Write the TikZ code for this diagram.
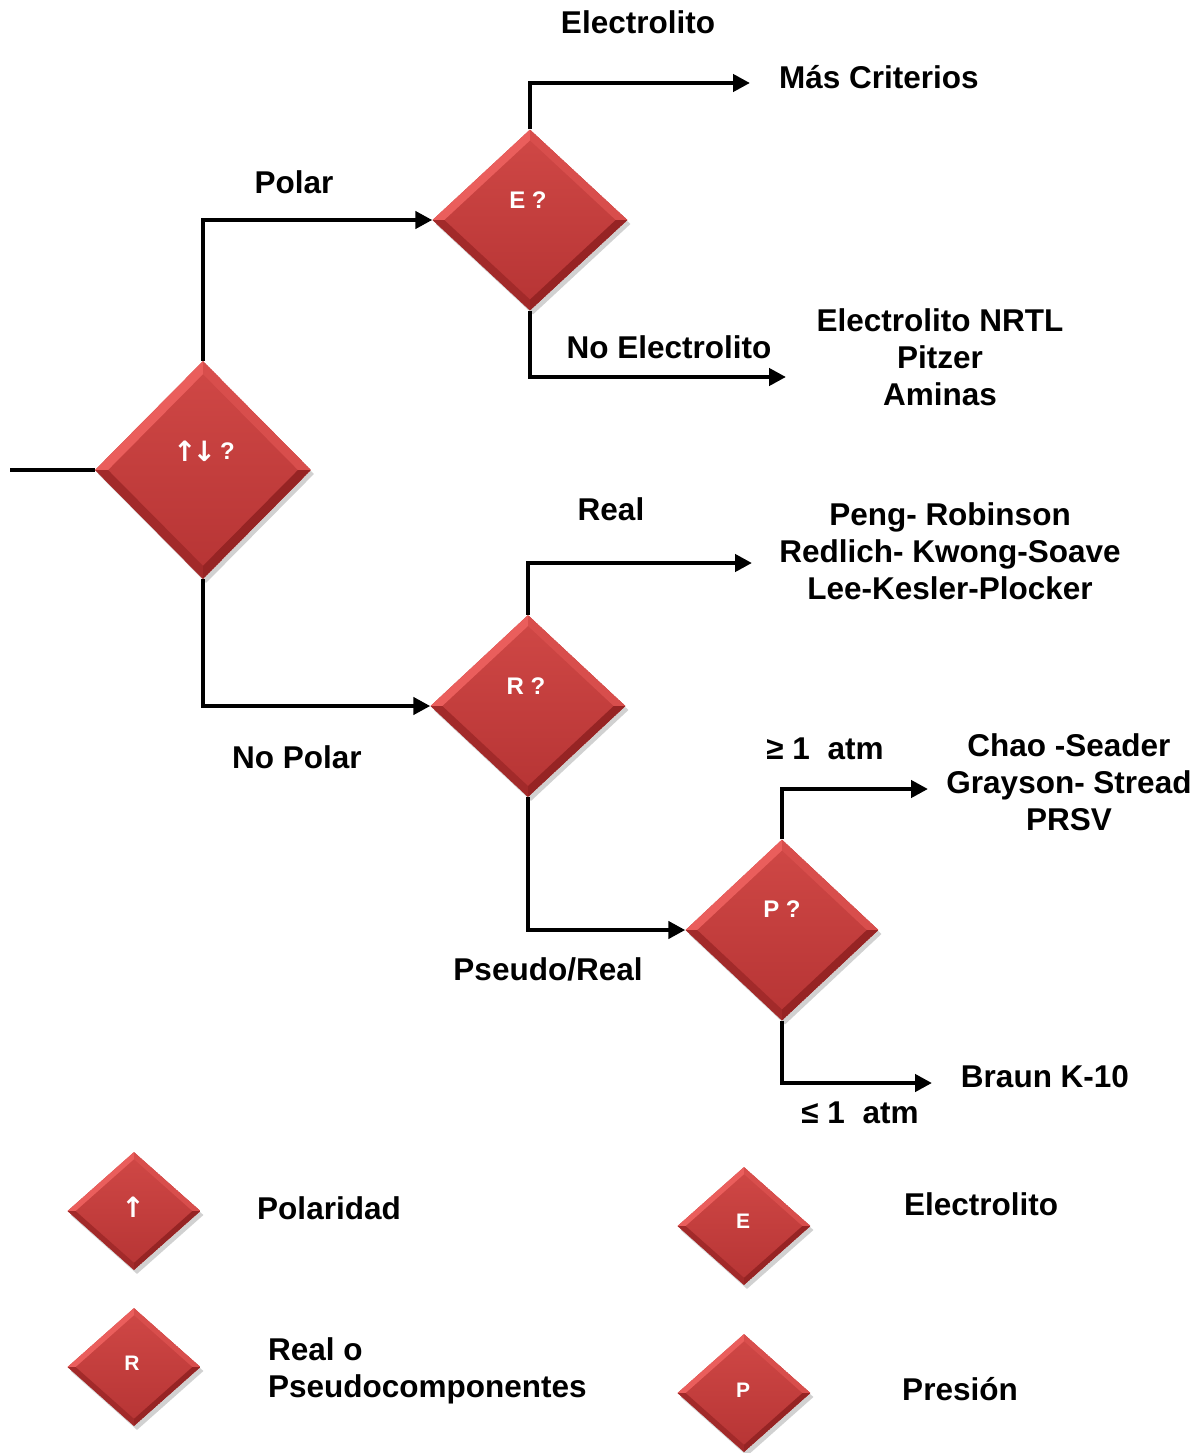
\documentclass[tikz,border=0pt]{standalone}
\usepackage{fontspec}
\setmainfont{Liberation Sans}
\newfontfamily\arrowfont{DejaVu Sans}
\usetikzlibrary{shapes.geometric,arrows.meta,calc,shadows}

\definecolor{gemtop}{RGB}{208,72,70}
\definecolor{gembot}{RGB}{182,52,52}
\definecolor{gemhl}{RGB}{234,94,92}
\definecolor{gemhl2}{RGB}{216,78,76}
\definecolor{gemdk}{RGB}{162,42,42}
\definecolor{gemdk2}{RGB}{150,36,36}

\begin{document}
\begin{tikzpicture}[x=1pt,y=-1pt,
  gem/.style={diamond, inner sep=0pt, draw=none,
    top color=gemtop, bottom color=gembot,
    drop shadow={shadow xshift=3pt, shadow yshift=-4pt, opacity=0.18, fill=black},
    path picture={
      \path (path picture bounding box.north) coordinate (gN)
            (path picture bounding box.south) coordinate (gS)
            (path picture bounding box.east)  coordinate (gE)
            (path picture bounding box.west)  coordinate (gW);
      \path ($(gN)!0.06!(gS)$) coordinate (iN)
            ($(gS)!0.06!(gN)$) coordinate (iS)
            ($(gE)!0.06!(gW)$) coordinate (iE)
            ($(gW)!0.06!(gE)$) coordinate (iW);
      \fill[gemhl]  (gN) -- (gW) -- (iW) -- (iN) -- cycle;
      \fill[gemhl2] (gN) -- (gE) -- (iE) -- (iN) -- cycle;
      \fill[gemdk]  (gW) -- (gS) -- (iS) -- (iW) -- cycle;
      \fill[gemdk2] (gE) -- (gS) -- (iS) -- (iE) -- cycle;
    }},
  bigtext/.style={text=white, font=\bfseries\fontsize{24}{28}\selectfont, inner sep=0pt},
  smalltext/.style={text=white, font=\bfseries\fontsize{21}{25}\selectfont, inner sep=0pt},
  lbl/.style={font=\bfseries\fontsize{31.5}{37}\selectfont, inner sep=0pt,
    text height=23pt, text depth=0pt},
  flow/.style={line width=4.5pt, -{Triangle[length=17pt,width=17pt]}},
  plain/.style={line width=4.5pt}
]
\useasboundingbox (0,0) rectangle (1204,1453);

% decision diamonds
\node[gem, minimum width=216pt, minimum height=218pt] (pol) at (203,470) {};
\node[gem, minimum width=195pt, minimum height=181pt] (ele) at (530,220) {};
\node[gem, minimum width=195pt, minimum height=182pt] (rea) at (528,706) {};
\node[gem, minimum width=193pt, minimum height=181pt] (pre) at (782,930) {};

\node[bigtext] (pol-t) at (204,451) {{\arrowfont\fontsize{28}{32}\selectfont ↑\kern-4pt↓}\kern4pt\raisebox{2pt}{?}};
\node[bigtext] (ele-t) at (528,200) {E ?};
\node[bigtext] (rea-t) at (526,686) {R ?};
\node[bigtext] (pre-t) at (782,909) {P ?};

% end points of the outgoing branches
\coordinate (in)  at (10,470);
\coordinate (mc)  at (750,83);
\coordinate (ne)  at (786,377);
\coordinate (re)  at (752,563);
\coordinate (hi)  at (928,789);
\coordinate (lo)  at (932,1083);

% connectors
\draw[plain] (in) -- (pol.west);
\draw[flow] (pol.north) |- (ele.west);
\draw[flow] (pol.south) |- (rea.west);
\draw[flow] (ele.north) |- (mc);
\draw[flow] (ele.south) |- (ne);
\draw[flow] (rea.north) |- (re);
\draw[flow] (rea.south) |- (pre.west);
\draw[flow] (pre.north) |- (hi);
\draw[flow] (pre.south) |- (lo);

% branch labels (multi-line blocks are placed by their last line)
\node[lbl] (l-el)  at (638,22)  {Electrolito};
\node[lbl] (l-mc)  at (879,77)  {Más Criterios};
\node[lbl] (l-po)  at (294,182) {Polar};
\node[lbl] (l-ne)  at (669,347) {No Electrolito};
\node[lbl, align=center] (l-nrtl) at (940,394) {Electrolito NRTL\\Pitzer\\Aminas};
\node[lbl] (l-re)  at (611,509) {Real};
\node[lbl, align=center] (l-eos) at (950,588) {Peng- Robinson\\Redlich- Kwong-Soave\\Lee-Kesler-Plocker};
\node[lbl] (l-np)  at (297,757) {No Polar};
\node[lbl] (l-ge)  at (825,748) {≥ 1\ \ atm};
\node[lbl, align=center] (l-cs) at (1069,819) {Chao -Seader\\Grayson- Stread\\PRSV};
\node[lbl] (l-ps)  at (548,969) {Pseudo/Real};
\node[lbl] (l-bk)  at (1045,1076) {Braun K-10};
\node[lbl] (l-le)  at (860,1112) {≤ 1\ \ atm};

% legend
\node[gem, minimum width=133pt, minimum height=118pt] (k-pol) at (134,1211) {};
\node[gem, minimum width=133pt, minimum height=118pt] (k-ele) at (744,1226) {};
\node[gem, minimum width=133pt, minimum height=118pt] (k-rea) at (134,1367) {};
\node[gem, minimum width=133pt, minimum height=118pt] (k-pre) at (744,1393) {};

\node[smalltext] (k-pol-t) at (133,1207) {\arrowfont\fontsize{28}{32}\selectfont ↑};
\node[smalltext] (k-ele-t) at (743,1221) {E};
\node[smalltext] (k-rea-t) at (132,1363) {R};
\node[smalltext] (k-pre-t) at (743,1390) {P};

\node[lbl] (k-pol-l) at (329,1208) {Polaridad};
\node[lbl] (k-ele-l) at (981,1204) {Electrolito};
\node[lbl, align=left, anchor=west] (k-rea-l) at (268,1386) {Real o\\Pseudocomponentes};
\node[lbl] (k-pre-l) at (960,1389) {Presión};
\end{tikzpicture}
\end{document}
